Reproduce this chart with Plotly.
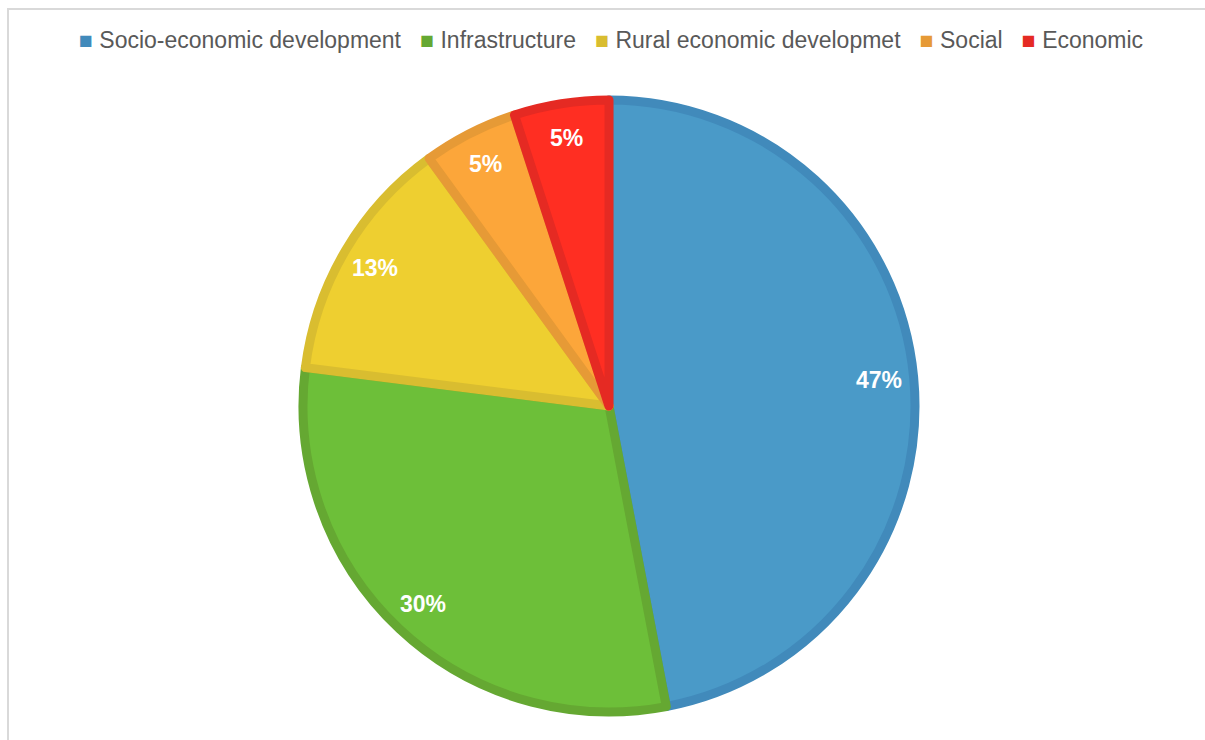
import math
import plotly.graph_objects as go

# Share of funding by category (percent)
categories = ["Socio-economic development", "Infrastructure",
              "Rural economic developmet", "Social", "Economic"]
shares = [47, 30, 13, 5, 5]

fill_colors = ["#4a9ac8", "#6dbf39", "#eecf30", "#fca63a", "#ff2e22"]
edge_colors = ["#418abb", "#65a832", "#d9bd30", "#e69a36", "#e52a23"]

W, H = 1205, 740
cx, cy, r = 609, 406, 306      # pie centre and radius in pixels
edge_w = 9
label_frac = 0.875             # data labels sit near the rim ("inside end")

fig = go.Figure(go.Pie(
    labels=categories,
    values=shares,
    sort=False,
    direction="clockwise",
    rotation=0,
    marker=dict(colors=fill_colors, line=dict(color=edge_colors, width=edge_w)),
    textinfo="none",
    hoverinfo="label+percent",
    showlegend=False,
    domain=dict(x=[(cx - r) / W, (cx + r) / W],
                y=[1 - (cy + r) / H, 1 - (cy - r) / H]),
))

# Percentage labels placed along each slice's mid-angle, near the outer edge
total = sum(shares)
annotations = []
start = 0.0
R = r + edge_w / 2
for v in shares:
    mid = (start + v / 2) / total * 2 * math.pi
    start += v
    px = cx + label_frac * R * math.sin(mid)
    py = cy - label_frac * R * math.cos(mid)
    annotations.append(dict(
        x=px / W, y=1 - py / H, xref="paper", yref="paper",
        text=f"{round(v / total * 100)}%", showarrow=False,
        xanchor="center", yanchor="middle",
        font=dict(family="Liberation Sans", size=23, color="white", weight="bold"),
    ))

# Legend row: coloured square followed by the category name
gap = "\u00a0" * 3
legend_text = gap.join(
    f"<span style='color:{c}'>■</span>\u00a0{name}"
    for name, c in zip(categories, edge_colors)
)
annotations.append(dict(
    x=611 / W, y=1 - 40 / H, xref="paper", yref="paper",
    text=legend_text, showarrow=False, xanchor="center", yanchor="middle",
    font=dict(family="Liberation Sans", size=23, color="#595959"),
))

fig.update_layout(
    width=W, height=H,
    margin=dict(l=0, r=0, t=0, b=0),
    paper_bgcolor="white",
    font=dict(family="Liberation Sans", color="#595959"),
    annotations=annotations,
    shapes=[dict(type="rect", xref="paper", yref="paper",
                 x0=8 / W, x1=1.05, y0=-0.05, y1=1 - 9 / H,
                 line=dict(color="#d9d9d9", width=2))],
)

fig.write_html("out.html")
